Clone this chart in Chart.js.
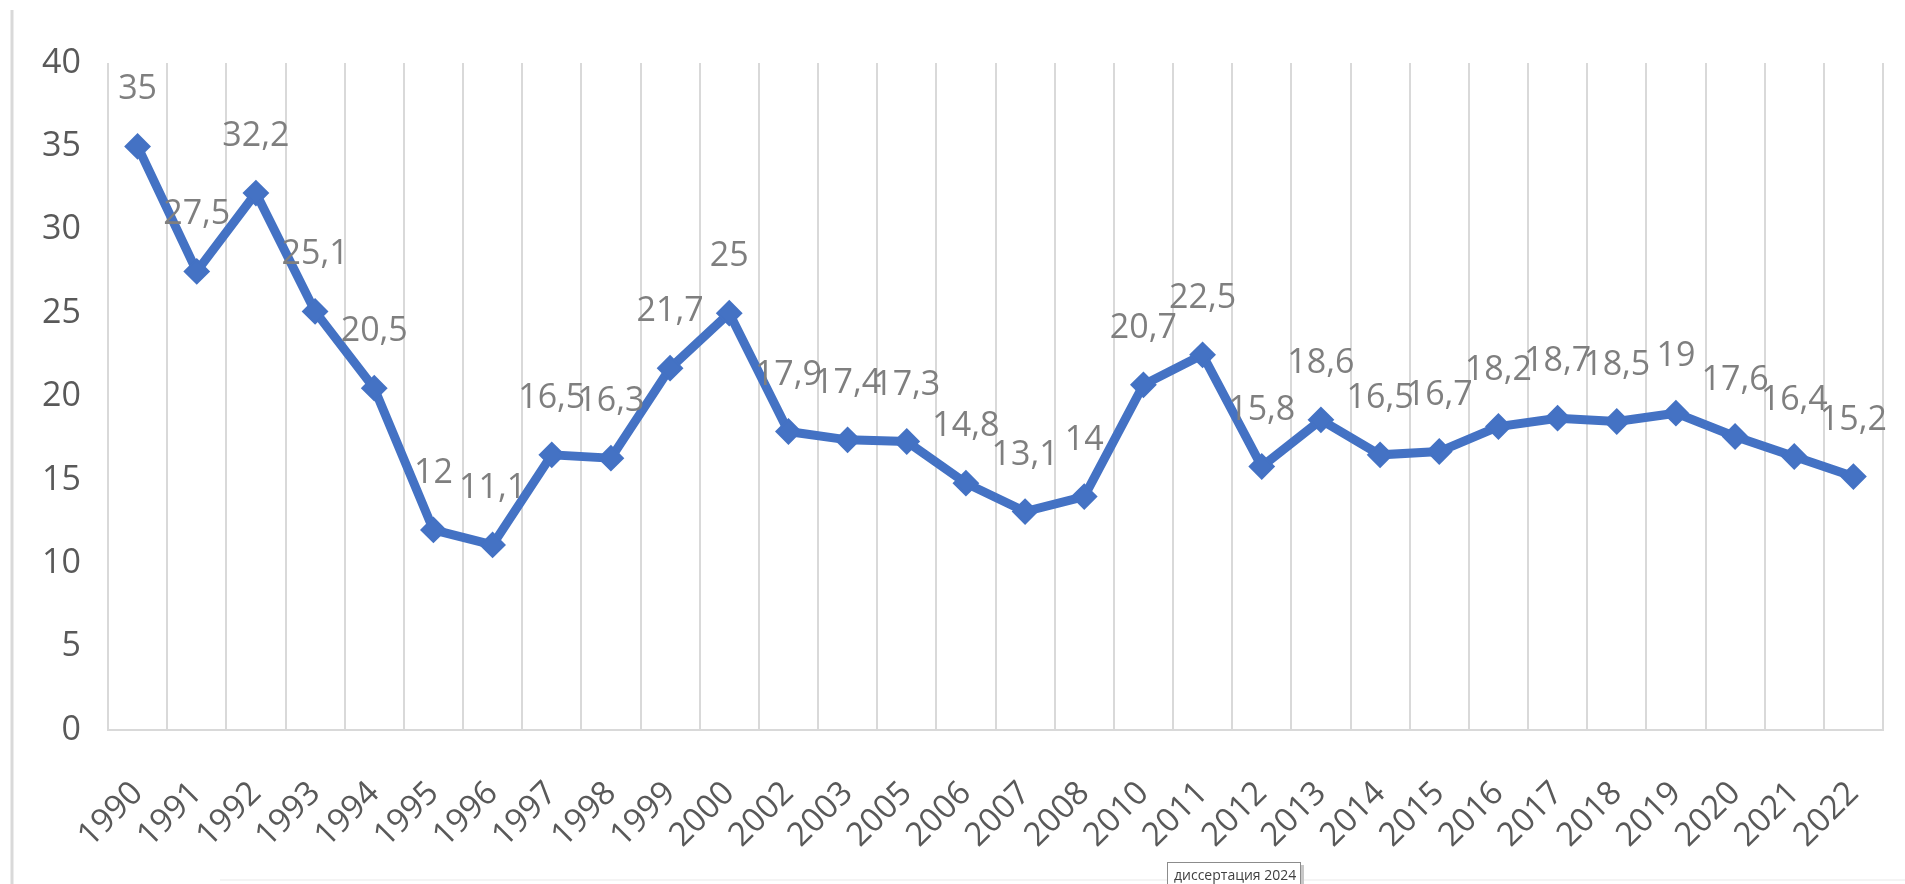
<!DOCTYPE html>
<html>
<head>
<meta charset="utf-8">
<script src="https://cdn.jsdelivr.net/npm/chart.js@4.4.1/dist/chart.umd.min.js"></script>
<style>
  html, body { margin: 0; padding: 0; background: #fff; }
  #wrap { width: 1905px; height: 884px; }
</style>
</head>
<body>
<div id="wrap"><canvas id="myChart"></canvas></div>
<script>
const years = ['1990','1991','1992','1993','1994','1995','1996','1997','1998','1999','2000',
  '2002','2003','2005','2006','2007','2008','2010','2011','2012','2013','2014','2015',
  '2016','2017','2018','2019','2020','2021','2022'];
const values = [35, 27.5, 32.2, 25.1, 20.5, 12, 11.1, 16.5, 16.3, 21.7, 25,
  17.9, 17.4, 17.3, 14.8, 13.1, 14, 20.7, 22.5, 15.8, 18.6, 16.5, 16.7,
  18.2, 18.7, 18.5, 19, 17.6, 16.4, 15.2];
const yTicks = [0, 5, 10, 15, 20, 25, 30, 35, 40];
const footNote = 'диссертация 2024';

const fmt = (v) => String(v).replace('.', ',');

// point labels above each marker, like excel "above"
const pointLabels = {
    id: 'pointLabels',
    afterDatasetsDraw(chart) {
        const ctx = chart.ctx;
        const meta = chart.getDatasetMeta(0);
        ctx.save();
        ctx.font = '34px "Open Sans"';
        ctx.fillStyle = '#7f7f7f';
        ctx.textAlign = 'center';
        ctx.textBaseline = 'alphabetic';
        meta.data.forEach((pt, i) => {
            ctx.fillText(fmt(values[i]), pt.x, pt.y - 47);
        });
        ctx.restore();
    }
};

// frame line on the left and the little caption box at the bottom
const frame = {
    id: 'frame',
    beforeDraw(chart) {
        const ctx = chart.ctx;
        ctx.save();
        ctx.fillStyle = '#fff';
        ctx.fillRect(0, 0, chart.width, chart.height);
        ctx.strokeStyle = '#d9d9d9';
        ctx.lineWidth = 3;
        ctx.beginPath();
        ctx.moveTo(12, 10);
        ctx.lineTo(12, chart.height);
        ctx.stroke();
        ctx.strokeStyle = '#f4f4f4';
        ctx.lineWidth = 2;
        ctx.beginPath();
        ctx.moveTo(220, 880);
        ctx.lineTo(chart.width, 880);
        ctx.stroke();
        ctx.restore();
    },
    afterDraw(chart) {
        const ctx = chart.ctx;
        ctx.save();
        ctx.fillStyle = '#c8c8c8';
        ctx.fillRect(1170, 865, 134, 22);
        ctx.fillStyle = '#fff';
        ctx.fillRect(1167, 862, 133, 24);
        ctx.strokeStyle = '#8c8c8c';
        ctx.lineWidth = 1;
        ctx.strokeRect(1167.5, 862.5, 133, 24);
        ctx.fillStyle = '#404040';
        ctx.font = '14px "Open Sans"';
        ctx.textAlign = 'left';
        ctx.textBaseline = 'alphabetic';
        ctx.fillText(footNote, 1174, 880);
        ctx.restore();
    }
};

var ctx = document.getElementById('myChart').getContext('2d');
var chart = new Chart(ctx, {
    type: 'line',
    data: {
        labels: years,
        datasets: [{
            data: values,
            borderColor: '#4472C4',
            backgroundColor: '#4472C4',
            borderWidth: 9,
            tension: 0,
            pointStyle: 'rectRot',
            pointRadius: 12,
            pointBorderWidth: 2,
            pointBackgroundColor: '#4472C4',
            pointBorderColor: '#4472C4'
        }]
    },
    options: {
        responsive: true,
        maintainAspectRatio: false,
        animation: false,
        layout: {
            padding: { left: 20, right: 22, top: 63, bottom: 0 }
        },
        plugins: {
            legend: { display: false },
            tooltip: { enabled: false }
        },
        scales: {
            x: {
                type: 'category',
                offset: true,
                grid: {
                    offset: true,
                    color: '#d9d9d9',
                    lineWidth: 2,
                    drawTicks: false
                },
                border: { display: true, color: '#d9d9d9', width: 2 },
                ticks: {
                    autoSkip: false,
                    minRotation: 45,
                    maxRotation: 45,
                    padding: 44,
                    color: '#595959',
                    font: { family: 'Open Sans', size: 33 }
                },
                afterFit(scale) {
                    scale.height = 154;
                    scale.paddingLeft = 0;
                    scale.paddingRight = 0;
                }
            },
            y: {
                min: 0,
                max: 40,
                afterBuildTicks(scale) {
                    scale.ticks = yTicks.map(v => ({ value: v }));
                },
                grid: { display: false },
                border: { display: false },
                ticks: {
                    padding: 19,
                    color: '#595959',
                    font: { family: 'Open Sans', size: 34 }
                },
                afterFit(scale) { scale.width = 88; }
            }
        }
    },
    plugins: [frame, pointLabels]
});
</script>
</body>
</html>
